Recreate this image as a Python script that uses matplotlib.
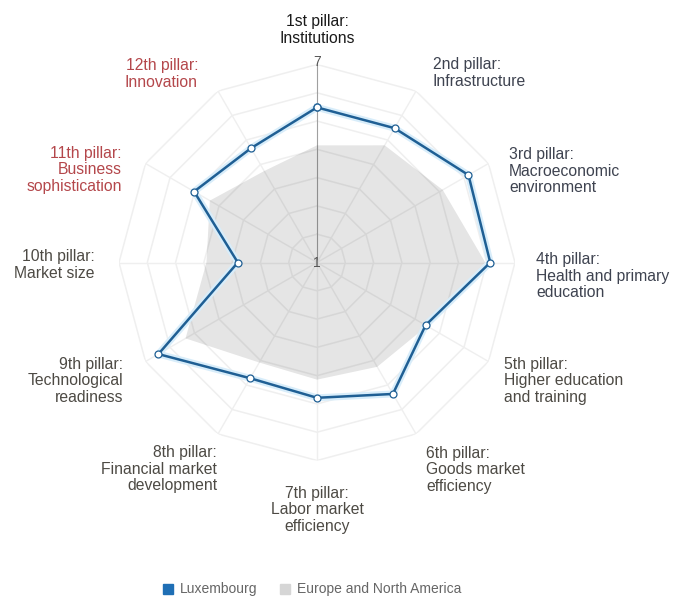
import matplotlib.pyplot as plt
import numpy as np

pillars = ['1st pillar:\nInstitutions', '2nd pillar:\nInfrastructure',
           '3rd pillar:\nMacroeconomic\nenvironment', '4th pillar:\nHealth and primary\neducation',
           '5th pillar:\nHigher education\nand training', '6th pillar:\nGoods market\nefficiency',
           '7th pillar:\nLabor market\nefficiency', '8th pillar:\nFinancial market\ndevelopment',
           '9th pillar:\nTechnological\nreadiness', '10th pillar:\nMarket size',
           '11th pillar:\nBusiness\nsophistication', '12th pillar:\nInnovation']
luxembourg = [5.7, 5.7, 6.3, 6.25, 4.8, 5.6, 5.1, 5.05, 6.55, 3.4, 5.3, 5.0]
europe_na = [4.55, 5.1, 5.4, 6.1, 4.85, 4.65, 4.55, 4.5, 5.6, 4.35, 4.75, 4.2]
scale_min, scale_max = 1, 7

label_colors = ['#1a1a1a', '#3e4350', '#3e4350', '#3e4350', '#4d4a44', '#4d4a44',
                '#4d4a44', '#4d4a44', '#4d4a44', '#4d4a44', '#b4474b', '#b4474b']
# label anchor (pixels from top-left) and alignment
label_pos = [(317, 30, 'center'), (433, 73, 'left'), (509, 171, 'left'), (536, 276, 'left'),
             (504, 381, 'left'), (426, 470, 'left'), (317, 510, 'center'), (217, 469, 'right'),
             (123, 381, 'right'), (95, 265, 'right'), (122, 170, 'right'), (198, 74, 'right')]

plt.rcParams['font.family'] = ['Liberation Sans', 'DejaVu Sans']

W, H = 674, 605
fig = plt.figure(figsize=(W / 100, H / 100), dpi=100)
cx, cy, R = 317, 262.5, 198
ax = fig.add_axes([(cx - R) / W, (H - cy - R) / H, 2 * R / W, 2 * R / H], projection='polar')
ax.set_theta_zero_location('N')
ax.set_theta_direction(-1)
ax.set_ylim(scale_min, scale_max)
ax.axis('off')

n = len(pillars)
theta = np.linspace(0, 2 * np.pi, n, endpoint=False)
theta_c = np.append(theta, theta[0])

# polygon rings
rings = np.linspace(scale_min, scale_max, 8)[1:]
for r in rings:
    ax.plot(theta_c, [r] * (n + 1), color='#efefef', lw=1.1, zorder=1)
for i, t in enumerate(theta):
    ax.plot([t, t], [scale_min, scale_max], color='#a0a0a0' if i == 0 else '#efefef',
            lw=0.8 if i == 0 else 1.0, zorder=1)

# Europe and North America
eu = np.append(europe_na, europe_na[0])
ax.fill(theta_c, eu, color='black', alpha=0.1, lw=0, zorder=2)

# Luxembourg
lu = np.append(luxembourg, luxembourg[0])
ax.plot(theta_c, lu, color='#d8edfa', lw=5, zorder=3)
ax.plot(theta_c, lu, color='#1f5f94', lw=1.8, zorder=4, marker='o', markersize=5,
        markerfacecolor='white', markeredgecolor='#1f5f94', markeredgewidth=0.9)

# scale labels
fig.text(cx / W, 1 - 62 / H, '7', ha='center', va='center', fontsize=10, color='#555555')
fig.text(cx / W, 1 - 263 / H, '1', ha='center', va='center', fontsize=10, color='#555555')

for lab, col, (x, y, ha) in zip(pillars, label_colors, label_pos):
    fig.text(x / W, 1 - y / H, lab, ha=ha, va='center', multialignment=ha,
             fontsize=11.3, color=col, linespacing=1.1)

# legend
fig.patches.append(plt.Rectangle((163 / W, 1 - 594 / H), 10 / W, 10 / H, transform=fig.transFigure,
                                 color='#1f6fb5', figure=fig))
fig.text(180 / W, 1 - 589 / H, 'Luxembourg', ha='left', va='center', fontsize=10, color='#666666')
fig.patches.append(plt.Rectangle((280 / W, 1 - 594 / H), 10 / W, 10 / H, transform=fig.transFigure,
                                 color='#d6d6d6', figure=fig))
fig.text(297 / W, 1 - 589 / H, 'Europe and North America', ha='left', va='center', fontsize=10,
         color='#666666')

plt.savefig('out.png', dpi=100)
plt.close()
